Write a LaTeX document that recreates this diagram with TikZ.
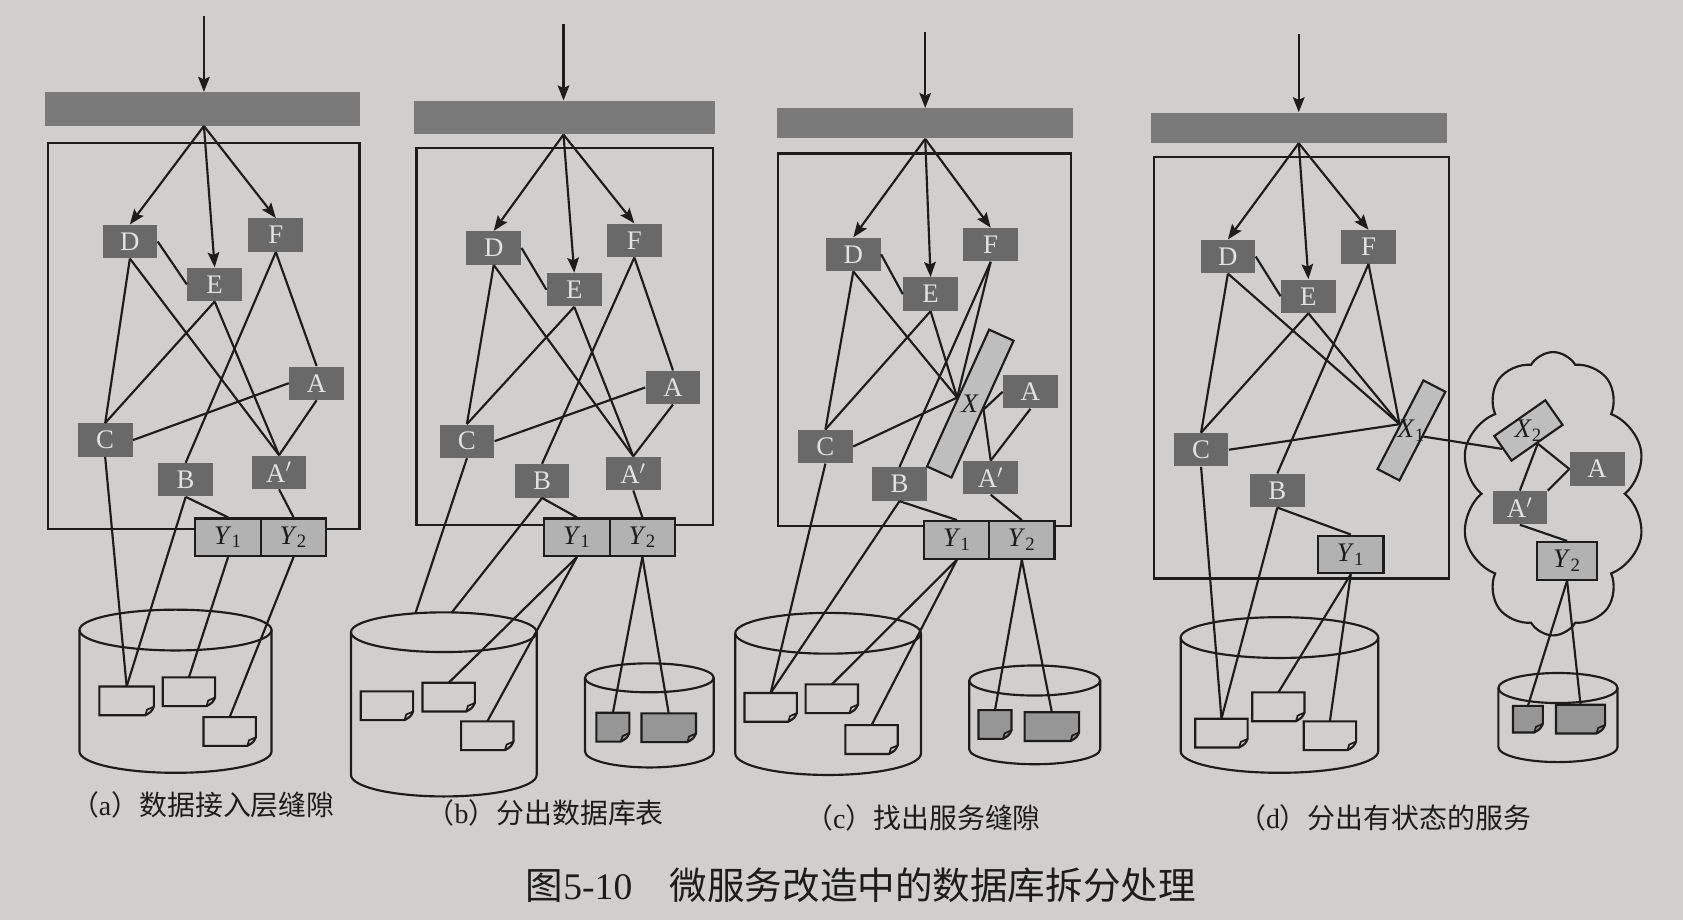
\documentclass[tikz,border=0pt]{standalone}
\usepackage{fontspec}
\setmainfont{Liberation Serif}
\newfontfamily\cjk{Noto Sans CJK SC}
\usetikzlibrary{arrows.meta,shapes.symbols,calc}
\definecolor{bgc}{RGB}{208,207,205}
\definecolor{inkc}{RGB}{28,28,28}
\definecolor{svcc}{RGB}{105,105,105}
\definecolor{svct}{RGB}{226,226,226}
\definecolor{barc}{RGB}{122,122,122}
\definecolor{yc}{RGB}{178,178,178}
\definecolor{xc}{RGB}{190,190,190}
\definecolor{dsc}{RGB}{150,150,150}
\tikzset{
 conn/.style={draw=inkc, line width=1pt},
 arr/.style={conn, -{Stealth[length=7pt,width=5.4pt,inset=1.2pt]}},
 svc/.style={rectangle, fill=svcc, text=svct, minimum width=25.5pt, minimum height=15.5pt, inner sep=0pt, font=\fontsize{12.5}{13}\selectfont},
 ybox/.style={rectangle, draw=inkc, line width=1pt, fill=yc, minimum width=30.5pt, minimum height=17.5pt, inner sep=0pt, text=inkc, font=\fontsize{12.5}{13}\selectfont},
 xbox/.style={rectangle, draw=inkc, line width=1pt, fill=xc, inner sep=0pt},
 barn/.style={rectangle, fill=barc, inner sep=0pt},
 frm/.style={draw=inkc, line width=1.1pt},
 dbs/.style={draw=inkc, line width=1pt},
 docn/.style={rectangle, inner sep=0pt, minimum height=13pt},
 captxt/.style={text=inkc, font=\fontsize{13}{15}\selectfont},
 ttltxt/.style={text=inkc, font=\fontsize{17.5}{20}\selectfont},
 lbltxt/.style={text=inkc, font=\fontsize{12.5}{13}\selectfont, inner sep=0pt},
}
\newcommand\drawdoc[2]{%
 \draw[dbs, fill=#1] (#2.north west) -- (#2.north east) -- ([yshift=4pt]#2.south east) .. controls ([xshift=-1.2pt,yshift=1.6pt]#2.south east) .. ([xshift=-4pt]#2.south east) -- (#2.south west) -- cycle;
 \draw[draw=inkc, line width=0.8pt] ([yshift=4pt]#2.south east) -- ([xshift=-3.2pt,yshift=2.6pt]#2.south east) -- ([xshift=-4pt]#2.south east);
}
\begin{document}
\begin{tikzpicture}[x=0.5pt,y=-0.5pt]
\fill[bgc] (0,0) rectangle (1568,857);
\useasboundingbox (0,0) rectangle (1568,857);

% ================= panel (a) =================
\node[barn, minimum width=146.5pt, minimum height=15.5pt] (aBar) at (188.5,101.5) {};
\draw[frm] (45,133) rectangle (335,493);
\draw[dbs] (163.5,587) ellipse [x radius=44.75pt, y radius=9.5pt];
\draw[dbs] (74,587) -- (74,700) arc[start angle=180, end angle=360, x radius=44.75pt, y radius=10pt] -- (253,587);
\node[svc] (aD) at (121,225) {D};
\node[svc] (aE) at (200,265) {E};
\node[svc] (aF) at (257,219) {F};
\node[svc] (aA) at (295,357) {A};
\node[svc] (aC) at (98,410) {C};
\node[svc] (aB) at (173,447) {B};
\node[svc] (aAp) at (260,440) {A$'$};
\node[ybox] (aY1) at (212.5,500.5) {\textit{Y}\textsubscript{1}};
\node[ybox] (aY2) at (273.5,500.5) {\textit{Y}\textsubscript{2}};
\node[docn, minimum width=25pt] (a1) at (118,653) {};
\node[docn, minimum width=24pt] (a2) at (176,644.5) {};
\node[docn, minimum width=24pt] (a3) at (214,681.5) {};
\drawdoc{bgc}{a1}\drawdoc{bgc}{a2}\drawdoc{bgc}{a3}
\coordinate (aIn) at (190,15);
\draw[arr] (aIn) -- (aIn |- aBar.north);
\draw[arr] (aIn |- aBar.south) -- (aD.north);
\draw[arr] (aIn |- aBar.south) -- (aE.north);
\draw[arr] (aIn |- aBar.south) -- (aF.north);
\draw[conn] (aD.south) -- (aC.north);
\draw[conn] (aD.south) -- (aAp.north);
\draw[conn] (aD.east) -- (aE.west);
\draw[conn] (aE.south) -- (aC.north);
\draw[conn] (aE.south) -- (aAp.north);
\draw[conn] (aF.south) -- (aB.north);
\draw[conn] (aF.south) -- (aA.north);
\draw[conn] (aA.south) -- (aAp.north);
\draw[conn] (aA.west) -- (aC.east);
\draw[conn] (aC.south) -- (a1.north);
\draw[conn] (aB.south) -- (a1.north);
\draw[conn] (aB.south) -- (aY1.north);
\draw[conn] (aAp.south) -- (aY2.north);
\draw[conn] (aY1.south) -- (a2.north);
\draw[conn] (aY2.south) -- (a3.north);

% ================= panel (b) =================
\node[barn, minimum width=140pt, minimum height=15.5pt] (bBar) at (526,109.5) {};
\draw[frm] (388,138) rectangle (664,489);
\draw[dbs] (413.5,589) ellipse [x radius=43.25pt, y radius=9.25pt];
\draw[dbs] (327,589) -- (327,722) arc[start angle=180, end angle=360, x radius=43.25pt, y radius=10pt] -- (500,589);
\draw[dbs] (605,631.5) ellipse [x radius=30pt, y radius=6.75pt];
\draw[dbs] (545,631.5) -- (545,700) arc[start angle=180, end angle=360, x radius=30pt, y radius=7.5pt] -- (665,631.5);
\node[svc] (bD) at (460,231) {D};
\node[svc] (bE) at (535,270) {E};
\node[svc] (bF) at (591,224) {F};
\node[svc] (bA) at (627,361) {A};
\node[svc] (bC) at (435,411) {C};
\node[svc] (bB) at (505,448) {B};
\node[svc] (bAp) at (590,441) {A$'$};
\node[ybox] (bY1) at (537.5,500.5) {\textit{Y}\textsubscript{1}};
\node[ybox] (bY2) at (598.5,500.5) {\textit{Y}\textsubscript{2}};
\node[docn, minimum width=24pt] (b1) at (360.5,657.5) {};
\node[docn, minimum width=24pt] (b2) at (418,649.5) {};
\node[docn, minimum width=24pt] (b3) at (454,685.5) {};
\node[docn, minimum width=15pt] (b4) at (571,677.5) {};
\node[docn, minimum width=25pt] (b5) at (623,678) {};
\drawdoc{bgc}{b1}\drawdoc{bgc}{b2}\drawdoc{bgc}{b3}\drawdoc{dsc}{b4}\drawdoc{dsc}{b5}
\coordinate (bIn) at (525,22);
\coordinate (bdb1) at (387,571.5);
\coordinate (bdb2) at (421,570.5);
\draw[arr] (bIn) -- (bIn |- bBar.north);
\draw[arr] (bIn |- bBar.south) -- (bD.north);
\draw[arr] (bIn |- bBar.south) -- (bE.north);
\draw[arr] (bIn |- bBar.south) -- (bF.north);
\draw[conn] (bD.south) -- (bC.north);
\draw[conn] (bD.south) -- (bAp.north);
\draw[conn] (bD.east) -- (bE.west);
\draw[conn] (bE.south) -- (bC.north);
\draw[conn] (bE.south) -- (bAp.north);
\draw[conn] (bF.south) -- (bB.north);
\draw[conn] (bF.south) -- (bA.north);
\draw[conn] (bA.south) -- (bAp.north);
\draw[conn] (bA.west) -- (bC.east);
\draw[conn] (bC.south) -- (bdb1);
\draw[conn] (bB.south) -- (bdb2);
\draw[conn] (bB.south) -- (bY1.north);
\draw[conn] (bAp.south) -- (bY2.north);
\draw[conn] (bY1.south) -- (b2.north);
\draw[conn] (bY1.south) -- (b3.north);
\draw[conn] (bY2.south) -- (b4.north);
\draw[conn] (bY2.south) -- (b5.north);

% ================= panel (c) =================
\node[barn, minimum width=138pt, minimum height=14pt] (cBar) at (862,115) {};
\draw[frm] (725,143) rectangle (998,490);
\draw[dbs] (771.5,590) ellipse [x radius=43.25pt, y radius=9.5pt];
\draw[dbs] (685,590) -- (685,702) arc[start angle=180, end angle=360, x radius=43.25pt, y radius=10pt] -- (858,590);
\draw[dbs] (964,634) ellipse [x radius=30.5pt, y radius=7pt];
\draw[dbs] (903,634) -- (903,698) arc[start angle=180, end angle=360, x radius=30.5pt, y radius=7pt] -- (1025,634);
\node[svc] (cD) at (795,237) {D};
\node[svc] (cE) at (867,274) {E};
\node[svc] (cF) at (923,228) {F};
\node[svc] (cA) at (960,365) {A};
\node[svc] (cC) at (769,416) {C};
\node[svc] (cB) at (838,451) {B};
\node[svc] (cAp) at (923,445) {A$'$};
\node[xbox, minimum width=70pt, minimum height=12.5pt, rotate=65.6] (cX) at (904,376) {};
\node[lbltxt] (cXl) at (cX.center) {\textit{X}};
\node[ybox] (cY1) at (891.5,503) {\textit{Y}\textsubscript{1}};
\node[ybox] (cY2) at (952,503) {\textit{Y}\textsubscript{2}};
\node[docn, minimum width=24pt] (c1) at (718,659) {};
\node[docn, minimum width=24pt] (c2) at (775,651) {};
\node[docn, minimum width=24pt] (c3) at (812,689) {};
\node[docn, minimum width=15pt] (c4) at (927,675) {};
\node[docn, minimum width=25pt] (c5) at (980,677) {};
\drawdoc{bgc}{c1}\drawdoc{bgc}{c2}\drawdoc{bgc}{c3}\drawdoc{dsc}{c4}\drawdoc{dsc}{c5}
\coordinate (cIn) at (862,30);
\draw[arr] (cIn) -- (cIn |- cBar.north);
\draw[arr] (cIn |- cBar.south) -- (cD.north);
\draw[arr] (cIn |- cBar.south) -- (cE.north);
\draw[arr] (cIn |- cBar.south) -- (cF.north);
\draw[conn] (cD.south) -- (cC.north);
\draw[conn] (cD.east) -- (cE.west);
\draw[conn] (cD.south) -- (cX.north);
\draw[conn] (cE.south) -- (cC.north);
\draw[conn] (cE.south) -- (cX.north);
\draw[conn] (cF.south) -- (cB.north);
\draw[conn] (cF.south) -- (cX.north);
\draw[conn] (cC.east) -- (cX.north);
\draw[conn] (cX.south) -- (cA.west);
\draw[conn] (cX.south) -- (cAp.north);
\draw[conn] (cA.south) -- (cAp.north);
\draw[conn] (cC.south) -- (c1.north);
\draw[conn] (cB.south) -- (c1.north);
\draw[conn] (cB.south) -- (cY1.north);
\draw[conn] (cAp.south) -- (cY2.north);
\draw[conn] (cY1.south) -- (c2.north);
\draw[conn] (cY1.south) -- (c3.north);
\draw[conn] (cY2.south) -- (c4.north);
\draw[conn] (cY2.south) -- (c5.north);

% ================= panel (d) =================
\node[barn, minimum width=138pt, minimum height=14pt] (dBar) at (1210,119) {};
\draw[frm] (1075,146) rectangle (1350,539);
\draw[dbs] (1192,594) ellipse [x radius=46pt, y radius=9.5pt];
\draw[dbs] (1100,594) -- (1100,700) arc[start angle=180, end angle=360, x radius=46pt, y radius=10pt] -- (1284,594);
\draw[dbs] (1451.5,641) ellipse [x radius=27.75pt, y radius=7pt];
\draw[dbs] (1396,641) -- (1396,696) arc[start angle=180, end angle=360, x radius=27.75pt, y radius=7pt] -- (1507,641);
\node[cloud, draw=inkc, line width=1pt, cloud puffs=10, cloud puff arc=120, cloud ignores aspect, minimum width=86pt, minimum height=132pt, inner sep=0pt] (cld) at (1447,460) {};
\node[svc] (dD) at (1144,239) {D};
\node[svc] (dE) at (1219,276) {E};
\node[svc] (dF) at (1275,230) {F};
\node[svc] (dC) at (1119,419) {C};
\node[svc] (dB) at (1190,457) {B};
\node[xbox, minimum width=46.5pt, minimum height=11.5pt, rotate=62.6] (dX1) at (1315,401) {};
\node[lbltxt] (dX1l) at (dX1.center) {\textit{X}\textsubscript{1}};
\node[ybox] (dY1) at (1258.5,516.5) {\textit{Y}\textsubscript{1}};
\node[xbox, minimum width=29pt, minimum height=14pt, rotate=35] (dX2) at (1424,401) {};
\node[lbltxt] (dX2l) at (dX2.center) {\textit{X}\textsubscript{2}};
\node[svc] (dA) at (1488,437) {A};
\node[svc] (dAp) at (1416,473) {A$'$};
\node[ybox, minimum width=28pt] (dY2) at (1460,522.5) {\textit{Y}\textsubscript{2}};
\node[docn, minimum width=24pt] (d1) at (1138,683) {};
\node[docn, minimum width=24pt] (d2) at (1191,658.5) {};
\node[docn, minimum width=24pt] (d3) at (1239,685.5) {};
\node[docn, minimum width=13.5pt, minimum height=12pt] (d4) at (1423.5,670) {};
\node[docn, minimum width=22.5pt] (d5) at (1472.5,670) {};
\drawdoc{bgc}{d1}\drawdoc{bgc}{d2}\drawdoc{bgc}{d3}\drawdoc{dsc}{d4}\drawdoc{dsc}{d5}
\coordinate (dIn) at (1210,32);
\draw[arr] (dIn) -- (dIn |- dBar.north);
\draw[arr] (dIn |- dBar.south) -- (dD.north);
\draw[arr] (dIn |- dBar.south) -- (dE.north);
\draw[arr] (dIn |- dBar.south) -- (dF.north);
\draw[conn] (dD.south) -- (dC.north);
\draw[conn] (dD.east) -- (dE.west);
\draw[conn] (dD.south) -- (dX1.north);
\draw[conn] (dE.south) -- (dC.north);
\draw[conn] (dE.south) -- (dX1.north);
\draw[conn] (dF.south) -- (dB.north);
\draw[conn] (dF.south) -- (dX1.north);
\draw[conn] (dC.east) -- (dX1.north);
\draw[conn] (dX1.south) -- (dX2.west);
\draw[conn] (dX2.south) -- (dAp.north);
\draw[conn] (dX2.south) -- (dA.west);
\draw[conn] (dAp.north east) -- (dA.west);
\draw[conn] (dAp.south) -- (dY2.north);
\draw[conn] (dY2.south) -- (d4.north);
\draw[conn] (dY2.south) -- (d5.north);
\draw[conn] (dB.south) -- (dY1.north);
\draw[conn] (dB.south) -- (d1.north);
\draw[conn] (dC.south) -- (d1.north);
\draw[conn] (dY1.south) -- (d2.north);
\draw[conn] (dY1.south) -- (d3.north);

% ================= captions =================
\node[captxt] (capa) at (189,750) {{\cjk （}a{\cjk ）数据接入层缝隙}};
\node[captxt] (capb) at (508,757) {{\cjk （}b{\cjk ）分出数据库表}};
\node[captxt] (capc) at (860,762) {{\cjk （}c{\cjk ）找出服务缝隙}};
\node[captxt] (capd) at (1290,762) {{\cjk （}d{\cjk ）分出有状态的服务}};
\node[ttltxt] (title) at (802,825) {{\cjk 图}5-10{\cjk 　微服务改造中的数据库拆分处理}};
\end{tikzpicture}
\end{document}
